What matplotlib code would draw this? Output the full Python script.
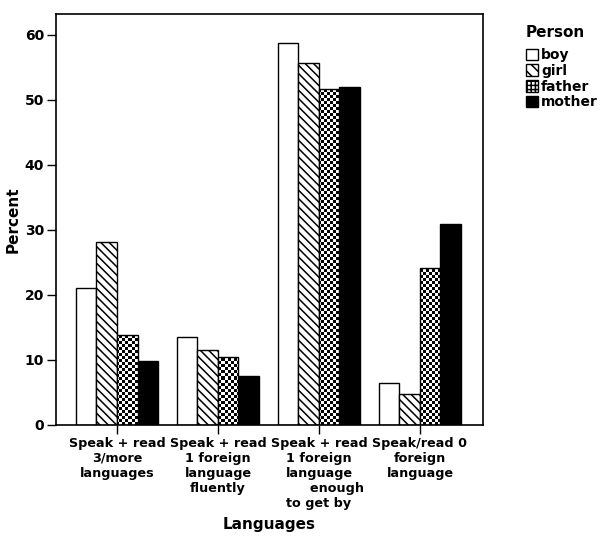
import matplotlib
matplotlib.use("Agg")
import matplotlib.pyplot as plt
import numpy as np
from matplotlib.patches import Patch

categories = ["Speak + read\n3/more\nlanguages",
              "Speak + read\n1 foreign\nlanguage\nfluently",
              "Speak + read\n1 foreign\nlanguage\n        enough\nto get by",
              "Speak/read 0\nforeign\nlanguage"]
persons = ["boy", "girl", "father", "mother"]
boy = [21.1, 13.5, 58.8, 6.5]
girl = [28.2, 11.5, 55.6, 4.8]
father = [13.8, 10.5, 51.6, 24.1]
mother = [9.8, 7.5, 51.9, 30.9]
yticks = [0, 10, 20, 30, 40, 50, 60]

plt.rcParams['font.family'] = ['DejaVu Sans']
plt.rcParams['font.weight'] = 'bold'
plt.rcParams['hatch.linewidth'] = 1.1

fig = plt.figure(figsize=(6.0, 5.39), dpi=100)
ax = fig.add_axes([56/600, 1-425/539, (483-56)/600, (425-14)/539])

series = [boy, girl, father, mother]
styles = [dict(facecolor='white', hatch=None),
          dict(facecolor='white', hatch='\\\\\\\\'),
          dict(facecolor='white', hatch=None),
          dict(facecolor='black', hatch=None)]
x = np.arange(len(categories))
w = 0.203
containers = []
for i, (vals, st, name) in enumerate(zip(series, styles, persons)):
    c = ax.bar(x + (i - 1.5) * w, vals, width=w, edgecolor='black', linewidth=1.0,
               label=name, **st)
    containers.append(c)

ax.set_xlim(-0.604, 3.624)
ax.set_ylim(0, 63.2)

# checkerboard texture for "father" bars, clipped to the bars
ncols, nrows = 142, 137
checker = (np.add.outer(np.arange(nrows), np.arange(ncols)) % 2).astype(float)
xl, yl = ax.get_xlim(), ax.get_ylim()
for b in containers[2]:
    im = ax.imshow(checker, cmap='gray', vmin=0, vmax=1, interpolation='nearest',
                   extent=[xl[0], xl[1], yl[0], yl[1]], aspect='auto', zorder=b.get_zorder())
    im.set_clip_path(b)
    b.set_zorder(b.get_zorder() + 0.1)
    b.set_facecolor('none')
ax.set_xlim(xl)
ax.set_ylim(yl)

handles = [Patch(facecolor='white', edgecolor='black', label='boy'),
           Patch(facecolor='white', edgecolor='black', hatch='\\\\\\', label='girl'),
           Patch(facecolor='white', edgecolor='black', hatch='++++', label='father'),
           Patch(facecolor='black', edgecolor='black', label='mother')]

ax.set_yticks(yticks)
ax.set_yticklabels([str(v) for v in yticks], fontsize=10, fontweight='bold')
ax.set_xticks(x)
ax.set_xticklabels(categories, fontsize=9.2, fontweight='bold', linespacing=1.2)
ax.tick_params(axis='both', direction='out', length=6.5, width=1.0, pad=2)
for s in ax.spines.values():
    s.set_linewidth(1.2)
ax.set_ylabel("Percent", fontsize=11, fontweight='bold', labelpad=3)
ax.set_xlabel("Languages", fontsize=11, fontweight='bold', labelpad=5)

leg = fig.legend(handles=handles, loc='upper left', bbox_to_anchor=(519/600, 1-18/539),
                 frameon=False, title="Person", fontsize=10,
                 title_fontproperties={'weight': 'bold', 'size': 11},
                 handlelength=0.9, handleheight=0.9, handletextpad=0.2,
                 labelspacing=0.12, borderpad=0, alignment='left')
for t in leg.get_texts():
    t.set_fontweight('bold')
leg._legend_box.sep = 6

fig.savefig("out.png", dpi=100)
